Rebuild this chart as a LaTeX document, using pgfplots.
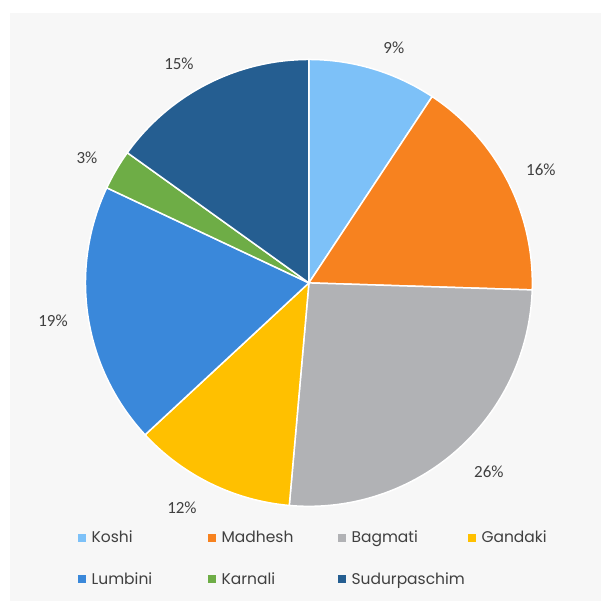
\documentclass[border=0pt]{standalone}
\usepackage{pgfplots}
\usepackage{pgfplotstable}
\pgfplotsset{compat=1.18}
\usepackage{fontspec}
\setmainfont{Poppins}
\newfontfamily\labelfont{Carlito}

\definecolor{bgcol}{HTML}{F7F7F7}
\definecolor{txt}{HTML}{404040}
\definecolor{c0}{HTML}{7DC1F8}
\definecolor{c1}{HTML}{F7821F}
\definecolor{c2}{HTML}{B1B2B5}
\definecolor{c3}{HTML}{FFC000}
\definecolor{c4}{HTML}{3A88DA}
\definecolor{c5}{HTML}{6EAD46}
\definecolor{c6}{HTML}{255E91}

% share of each province (%), with the place of its data label
\pgfplotstableread{
region value lx ly
Koshi 9.3 394 48
Madhesh 16.2 541 170
Bagmati 25.9 489 472
Gandaki 11.7 182 508
Lumbini 18.9 53 321
Karnali 2.9 87 158
Sudurpaschim 15.1 179 64
}\piedata

\pgfplotsset{legsq/.style={legend image code/.code={\fill[##1] (0pt,-4pt) rectangle (8pt,4pt);}}}
\newcommand{\leg}[1]{\makebox[116pt][l]{\hspace{2.5pt}#1}}

\begin{document}
\begin{tikzpicture}
\begin{axis}[
    scale only axis,
    width=601pt, height=601pt,
    xmin=0, xmax=601, ymin=0, ymax=601,
    y dir=reverse,
    hide axis,
    clip=false,
    legend columns=4,
    legend style={at={(axis cs:75,527)}, anchor=north west,
        draw=none, fill=none, font=\fontsize{15.5}{18}\selectfont,
        text=txt, row sep=24pt,
        nodes={inner ysep=2pt, inner xsep=3pt}},
]
\fill[white] (axis cs:0,0) rectangle (axis cs:601,601);
\fill[bgcol] (axis cs:10,13) rectangle (axis cs:601,601);

\def\cum{0}
\pgfplotsforeachungrouped \i in {0,...,6}{%
  \pgfplotstablegetelem{\i}{value}\of\piedata
  \let\v=\pgfplotsretval
  \pgfplotstablegetelem{\i}{lx}\of\piedata
  \let\lx=\pgfplotsretval
  \pgfplotstablegetelem{\i}{ly}\of\piedata
  \let\ly=\pgfplotsretval
  \pgfmathsetmacro{\a}{90-3.6*\cum}
  \pgfmathsetmacro{\b}{90-3.6*(\cum+\v)}
  \pgfmathtruncatemacro{\p}{round(\v)}
  \pgfmathsetmacro{\cum}{\cum+\v}
  \edef\temp{%
    \noexpand\fill[fill=c\i, draw=white, line width=1.5pt] (axis cs:309,283) -- ++(\a:223.5pt)
      arc[start angle=\a, end angle=\b, radius=223.5pt] -- cycle;
    \noexpand\node[text=txt, font=\noexpand\labelfont\noexpand\fontsize{17}{19}\noexpand\selectfont] at (axis cs:\lx,\ly) {\p\noexpand\%};
  }%
  \temp
}

\addlegendimage{fill=c0, draw=none, legsq}
\addlegendentry{\leg{Koshi}}
\addlegendimage{fill=c1, draw=none, legsq}
\addlegendentry{\leg{Madhesh}}
\addlegendimage{fill=c2, draw=none, legsq}
\addlegendentry{\leg{Bagmati}}
\addlegendimage{fill=c3, draw=none, legsq}
\addlegendentry{\leg{Gandaki}}
\addlegendimage{fill=c4, draw=none, legsq}
\addlegendentry{\leg{Lumbini}}
\addlegendimage{fill=c5, draw=none, legsq}
\addlegendentry{\leg{Karnali}}
\addlegendimage{fill=c6, draw=none, legsq}
\addlegendentry{\leg{Sudurpaschim}}
\end{axis}
\end{tikzpicture}
\end{document}
